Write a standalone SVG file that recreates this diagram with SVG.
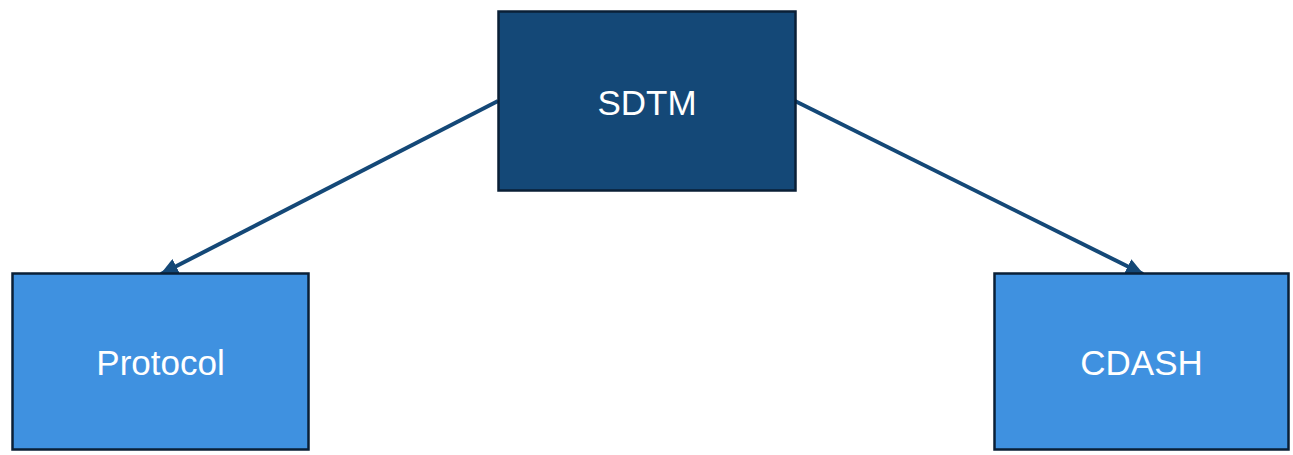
<svg xmlns="http://www.w3.org/2000/svg" width="1293" height="455" viewBox="0 0 1293 455">
  <style>
    .node rect { stroke: #0a1f36; stroke-width: 2.5; }
    .dark rect { fill: #144877; }
    .light rect { fill: #3f91e0; }
    .node text { font-family: "Liberation Sans", Arial, sans-serif; font-size: 35px; fill: #ffffff; text-anchor: middle; }
    .edge { stroke: #144877; stroke-width: 4; fill: none; }
  </style>
  <defs>
    <marker id="arrow" markerUnits="userSpaceOnUse" markerWidth="18" markerHeight="16" refX="17" refY="8" orient="auto">
      <path d="M0,0 L18,8 L0,16 Z" fill="#144877"/>
    </marker>
  </defs>
  <rect width="1293" height="455" fill="#ffffff"/>
  <g id="connectors">
    <path class="edge" d="M498,101 L161,274" marker-end="url(#arrow)"/>
    <path class="edge" d="M795,101 L1143,274" marker-end="url(#arrow)"/>
  </g>
  <g id="sdtm" class="node dark">
    <rect x="498.5" y="11.5" width="297" height="179"/>
    <text x="647" y="115">SDTM</text>
  </g>
  <g id="protocol" class="node light">
    <rect x="12.5" y="273.5" width="296" height="176"/>
    <text x="160.5" y="375">Protocol</text>
  </g>
  <g id="cdash" class="node light">
    <rect x="994.5" y="273.5" width="294" height="176"/>
    <text x="1141.5" y="375">CDASH</text>
  </g>
</svg>
